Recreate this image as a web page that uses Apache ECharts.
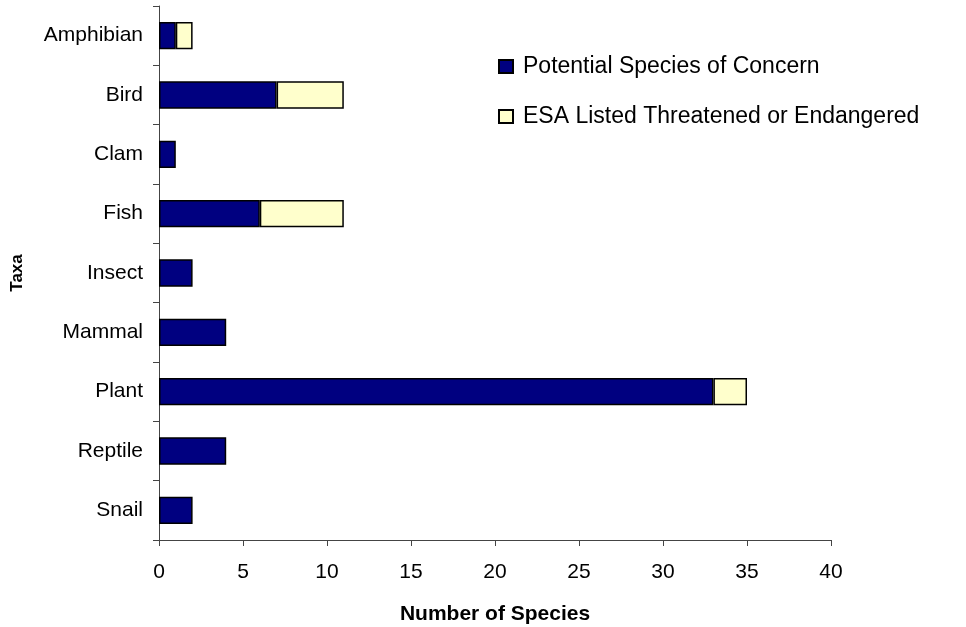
<!DOCTYPE html>
<html>
<head>
<meta charset="utf-8">
<script src="https://cdn.jsdelivr.net/npm/echarts@6/dist/echarts.min.js"></script>
<style>
  html, body { margin: 0; padding: 0; background: #fff; }
  #chart { width: 966px; height: 627px; }
</style>
</head>
<body>
<div id="chart"></div>
<script>
// categories top to bottom
const taxa = ["Amphibian", "Bird", "Clam", "Fish", "Insect", "Mammal", "Plant", "Reptile", "Snail"];
const concern = [1, 7, 1, 6, 2, 4, 33, 4, 2];
const esaListed = [1, 4, 0, 5, 0, 0, 2, 0, 0];
const seriesNames = ["Potential Species of Concern", "ESA Listed Threatened or Endangered"];

const chart = echarts.init(document.getElementById("chart"));

const font = "Liberation Sans, Arial, sans-serif";
const axisColor = "#444";

chart.setOption({
  animation: false,
  grid: { left: 159, right: 135, top: 6, bottom: 87, outerBoundsMode: "none", containLabel: false },
  legend: {
    orient: "vertical",
    left: 498,
    top: 55,
    padding: 0,
    itemWidth: 14,
    itemHeight: 13,
    itemGap: 27,
    icon: "rect",
    textStyle: { fontFamily: font, fontSize: 23, color: "#000", lineHeight: 23, padding: [0, 0, 0, 5] },
    data: seriesNames
  },
  xAxis: {
    type: "value",
    min: 0,
    max: 40,
    interval: 5,
    name: "Number of Species",
    nameLocation: "middle",
    nameGap: 64,
    nameTextStyle: { fontFamily: font, fontSize: 21, fontWeight: "bold", color: "#000" },
    axisLine: { show: true, lineStyle: { color: axisColor, width: 1 } },
    axisTick: { show: true, length: 6, lineStyle: { color: axisColor } },
    axisLabel: { fontFamily: font, fontSize: 21, color: "#000", margin: 22 },
    splitLine: { show: false }
  },
  yAxis: {
    type: "category",
    inverse: true,
    data: taxa,
    name: "Taxa",
    nameLocation: "middle",
    nameGap: 133,
    nameRotate: 90,
    nameTextStyle: { fontFamily: font, fontSize: 17, fontWeight: "bold", color: "#000" },
    axisLine: { show: true, lineStyle: { color: axisColor, width: 1 } },
    axisTick: { show: true, length: 6, lineStyle: { color: axisColor } },
    axisLabel: { fontFamily: font, fontSize: 21, color: "#000", margin: 16 }
  },
  series: [
    {
      name: seriesNames[0],
      type: "bar",
      stack: "total",
      barWidth: "46%",
      data: concern,
      itemStyle: { color: "#000080", borderColor: "#000", borderWidth: 1.5 }
    },
    {
      name: seriesNames[1],
      type: "bar",
      stack: "total",
      barWidth: "46%",
      data: esaListed.map(v => (v === 0 ? null : v)),
      itemStyle: { color: "#FFFFCC", borderColor: "#000", borderWidth: 1.5 }
    }
  ]
});
</script>
</body>
</html>
